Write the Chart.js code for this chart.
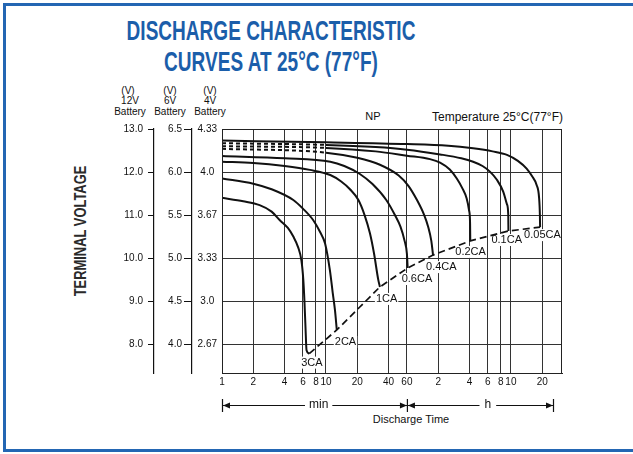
<!DOCTYPE html>
<html lang="en">
<head>
<meta charset="UTF-8">
<title>Discharge Characteristic Curves</title>
<script src="https://cdn.jsdelivr.net/npm/chart.js"></script>
<style>
  html, body { margin: 0; padding: 0; background: #fff; }
  body { width: 633px; height: 454px; position: relative; overflow: hidden;
         font-family: 'Liberation Sans', Arial, sans-serif; color: #111; }
  #frame { position: absolute; left: 3px; top: 3px; width: 700px; height: 449px;
           border: 3px solid #2366b3; box-sizing: border-box; }
  .t { position: absolute; white-space: nowrap; line-height: 1; }
  .c { transform: translateX(-50%); }
  #title { position: absolute; left: -79px; top: 15px; width: 700px; text-align: center;
           font-weight: bold; font-size: 28px; line-height: 31px; color: #1b5eaa;
           white-space: nowrap; transform: scaleX(0.68); }
  #ylab { position: absolute; left: 80px; top: 231px; font-weight: bold; font-size: 17px;
          line-height: 1; color: #2a2a2a; white-space: nowrap;
          transform: translate(-50%, -50%) rotate(-90deg) scaleX(0.76); }
  #wrap { position: absolute; left: 0; top: 0; width: 633px; height: 454px; }
</style>
</head>
<body>
<div id="frame"></div>
<div id="title">DISCHARGE CHARACTERISTIC<br>CURVES AT 25°C (77°F)</div>
<div id="ylab">TERMINAL VOLTAGE</div>

<!-- battery headers over the three voltage axes -->
<div class="t c" style="left:128px;top:86px;font-size:10px">(V)</div>
<div class="t c" style="left:170px;top:86px;font-size:10px">(V)</div>
<div class="t c" style="left:210px;top:86px;font-size:10px">(V)</div>
<div class="t c" style="left:130px;top:96px;font-size:10px">12V</div>
<div class="t c" style="left:170px;top:96px;font-size:10px">6V</div>
<div class="t c" style="left:210px;top:96px;font-size:10px">4V</div>
<div class="t c" style="left:130px;top:107px;font-size:10px">Battery</div>
<div class="t c" style="left:170px;top:107px;font-size:10px">Battery</div>
<div class="t c" style="left:210px;top:107px;font-size:10px">Battery</div>

<div class="t c" style="left:373px;top:111px;font-size:11px">NP</div>
<div class="t" style="left:432px;top:111px;font-size:12px">Temperature 25°C(77°F)</div>
<div class="t c" style="left:411px;top:414px;font-size:11px">Discharge Time</div>

<div id="wrap"><canvas id="chart"></canvas></div>

<script>
// discharge time in minutes, terminal voltage on the 12V scale
const t3CA = [1, 1.6, 2.3, 3, 3.6, 4.3, 4.85, 5.4, 5.8, 6.05, 6.2, 6.35, 6.5, 6.9];
const v3CA = [11.40, 11.32, 11.23, 11.08, 10.88, 10.70, 10.50, 10.25, 9.95, 9.5, 9.02, 8.4, 7.86, 7.78];
const t2CA = [1, 2, 3, 4.85, 6, 7.55, 8.8, 9.8, 10.9, 11.6, 12.2, 12.7];
const v2CA = [11.85, 11.73, 11.60, 11.35, 11.15, 10.88, 10.6, 10.34, 9.72, 9.2, 8.79, 8.33];
const t1CA = [1, 2, 4, 7, 11, 14, 17, 20.5, 23.5, 26.5, 29, 31.8, 33];
const v1CA = [12.24, 12.21, 12.14, 12.05, 11.93, 11.78, 11.60, 11.35, 11.0, 10.57, 10.1, 9.5, 9.33];
const t06CA = [1, 4, 11, 15, 21, 28, 38, 46, 52, 57, 60, 61];
const v06CA = [12.37, 12.32, 12.24, 12.14, 11.96, 11.72, 11.35, 11.0, 10.73, 10.4, 10.1, 9.77];
const t04CA = [1, 10, 20, 33, 50, 62, 75, 88, 96, 103, 107];
const v04CA = [12.54, 12.45, 12.33, 12.17, 11.92, 11.68, 11.35, 11.0, 10.73, 10.4, 10.07];
const t02CA = [1, 10, 30, 60, 100, 125, 155, 181, 205, 225, 238, 243, 244];
const v02CA = [12.60, 12.56, 12.48, 12.38, 12.30, 12.22, 12.06, 11.85, 11.62, 11.39, 11.1, 10.8, 10.40];
const t01CA = [1, 10, 30, 60, 125, 200, 260, 320, 377, 440, 507, 550, 566, 568];
const v01CA = [12.67, 12.63, 12.58, 12.52, 12.41, 12.32, 12.24, 12.14, 12.01, 11.82, 11.54, 11.25, 11.0, 10.63];
const t005CA = [1, 10, 60, 150, 260, 400, 550, 700, 850, 960, 1060, 1120, 1140, 1145];
const v005CA = [12.73, 12.69, 12.65, 12.61, 12.55, 12.48, 12.40, 12.26, 12.08, 11.90, 11.70, 11.40, 11.0, 10.72];

// end of discharge points (dashed line) and their labels
const endT = [6.9, 12.7, 33, 61, 107, 244, 568, 1145];
const endV = [7.78, 8.33, 9.33, 9.77, 10.07, 10.40, 10.63, 10.72];
const rateLabels = ['3CA', '2CA', '1CA', '0.6CA', '0.4CA', '0.2CA', '0.1CA', '0.05CA'];

// axis ticks
const xTickValues = [1, 2, 4, 6, 8, 10, 20, 40, 60, 120, 240, 360, 480, 600, 1200];
const xTickLabels = ['1', '2', '4', '6', '8', '10', '20', '40', '60', '2', '4', '6', '8', '10', '20'];
const voltTicks = [8, 9, 10, 11, 12, 13];
const labels12V = ['8.0', '9.0', '10.0', '11.0', '12.0', '13.0'];
const labels6V = ['4.0', '4.5', '5.0', '5.5', '6.0', '6.5'];
const labels4V = ['2.67', '3.0', '3.33', '3.67', '4.0', '4.33'];

const FONT = "'Liberation Sans', Arial, sans-serif";
const pts = (t, v) => t.map((x, i) => ({ x: x, y: v[i] }));
// first stretch of the light-rate curves is drawn dashed
const earlyDash = { borderDash: ctx => ctx.p1.parsed.x <= 10 ? [4, 3] : undefined };

// label offsets from each end point, in pixels
const labelShift = [[-8, 9], [-2, 12], [-4, 12], [-6, 11], [-7, 12], [-15, 11], [-17, 9], [-16, 8]];

const extras = {
  id: 'extras',
  beforeDatasetsDraw(chart) {
    const { ctx, scales: { x, y } } = chart;
    ctx.save();
    ctx.font = '11px ' + FONT;
    ctx.fillStyle = '#fff';
    rateLabels.forEach((txt, i) => {
      const px = x.getPixelForValue(endT[i]) + labelShift[i][0];
      const py = y.getPixelForValue(endV[i]) + labelShift[i][1];
      ctx.fillRect(px - 1, py - 6, ctx.measureText(txt).width + 2, 12);
    });
    ctx.restore();
  },
  afterDatasetsDraw(chart) {
    const { ctx, chartArea: a, scales: { x, y } } = chart;
    ctx.save();
    ctx.strokeStyle = '#222';
    ctx.lineWidth = 1;
    ctx.strokeRect(a.left + 0.5, a.top + 0.5, a.width - 1, a.height);

    ctx.font = '11px ' + FONT;
    ctx.fillStyle = '#111';
    ctx.textBaseline = 'middle';
    rateLabels.forEach((txt, i) => {
      const px = x.getPixelForValue(endT[i]) + labelShift[i][0];
      const py = y.getPixelForValue(endV[i]) + labelShift[i][1];
      ctx.fillText(txt, px, py);
    });

    // min / h dimension line under the axis
    const yy = 405;
    const xL = x.getPixelForValue(1), xM = x.getPixelForValue(60), xR = a.right - 9;
    const minX = x.getPixelForValue(8.5), hX = x.getPixelForValue(360);
    ctx.font = '12px ' + FONT;
    ctx.textAlign = 'center';
    ctx.fillText('min', minX, yy);
    ctx.fillText('h', hX, yy);
    const wMin = ctx.measureText('min').width / 2 + 4, wH = ctx.measureText('h').width / 2 + 5;
    ctx.strokeStyle = '#111';
    ctx.beginPath();
    [[xL, minX - wMin], [minX + wMin, xM], [xM, hX - wH], [hX + wH, xR]].forEach(s => {
      ctx.moveTo(s[0], yy + 0.5); ctx.lineTo(s[1], yy + 0.5);
    });
    [xL, xM, xR].forEach(p => { ctx.moveTo(p + 0.5, yy - 6); ctx.lineTo(p + 0.5, yy + 7); });
    ctx.lineWidth = 1.2;
    ctx.stroke();
    const arrow = (px, dir) => {
      ctx.beginPath();
      ctx.moveTo(px, yy + 0.5);
      ctx.lineTo(px + dir * 7, yy - 2.5);
      ctx.lineTo(px + dir * 7, yy + 3.5);
      ctx.closePath();
      ctx.fill();
    };
    arrow(xL + 1, 1); arrow(xM, -1); arrow(xM + 1, 1); arrow(xR, -1);
    ctx.restore();
  }
};

const curve = (t, v, extra) => Object.assign({ data: pts(t, v) }, extra || {});

new Chart(document.getElementById('chart'), {
  type: 'line',
  data: {
    datasets: [
      curve(t3CA, v3CA),
      curve(t2CA, v2CA),
      curve(t1CA, v1CA),
      curve(t06CA, v06CA),
      curve(t04CA, v04CA, { segment: earlyDash }),
      curve(t02CA, v02CA, { segment: earlyDash }),
      curve(t01CA, v01CA, { segment: earlyDash }),
      curve(t005CA, v005CA),
      { data: pts(endT, endV), borderWidth: 1.7, borderDash: [7, 4], cubicInterpolationMode: 'default', tension: 0 }
    ]
  },
  options: {
    responsive: true,
    maintainAspectRatio: false,
    animation: false,
    events: [],
    layout: { padding: { left: 100, right: 71, top: 129, bottom: 61 } },
    plugins: { legend: { display: false }, tooltip: { enabled: false } },
    elements: {
      point: { radius: 0 },
      line: { borderWidth: 2, borderColor: '#111', cubicInterpolationMode: 'monotone', fill: false }
    },
    scales: {
      x: {
        type: 'logarithmic', min: 1, max: 1860,
        afterBuildTicks: ax => { ax.ticks = xTickValues.map(v => ({ value: v })); },
        afterFit: ax => { ax.height = 20; },
        ticks: { callback: (v, i) => xTickLabels[i], autoSkip: false, maxRotation: 0,
                 padding: 3, color: '#111', font: { family: FONT, size: 10 } },
        grid: { color: '#333', lineWidth: 1, drawTicks: false },
        border: { display: true, color: '#222' }
      },
      y: {
        type: 'linear', position: 'left', weight: 3, min: 7.33, max: 13,
        afterBuildTicks: ax => { ax.ticks = voltTicks.map(v => ({ value: v })); },
        afterFit: ax => { ax.width = 54; },
        ticks: { callback: (v, i) => labels12V[i], padding: 5, color: '#111', font: { family: FONT, size: 10 } },
        grid: { color: '#333', tickColor: '#111', tickLength: 6 },
        border: { display: true, color: '#111', width: 1.2 }
      },
      y6: {
        type: 'linear', position: 'left', weight: 2, min: 7.33, max: 13,
        afterBuildTicks: ax => { ax.ticks = voltTicks.map(v => ({ value: v })); },
        afterFit: ax => { ax.width = 38; },
        ticks: { callback: (v, i) => labels6V[i], padding: 2, color: '#111', font: { family: FONT, size: 10 } },
        grid: { drawOnChartArea: false, tickColor: '#111', tickLength: 8 },
        border: { display: true, color: '#111', width: 1.2 }
      },
      y4: {
        type: 'linear', position: 'left', weight: 1, min: 7.33, max: 13,
        afterBuildTicks: ax => { ax.ticks = voltTicks.map(v => ({ value: v })); },
        afterFit: ax => { ax.width = 30; },
        ticks: { callback: (v, i) => labels4V[i], crossAlign: 'center', padding: 5,
                 color: '#111', font: { family: FONT, size: 10 } },
        grid: { display: false, drawTicks: false, tickLength: 0 },
        border: { display: false }
      }
    }
  },
  plugins: [extras]
});
</script>
</body>
</html>
